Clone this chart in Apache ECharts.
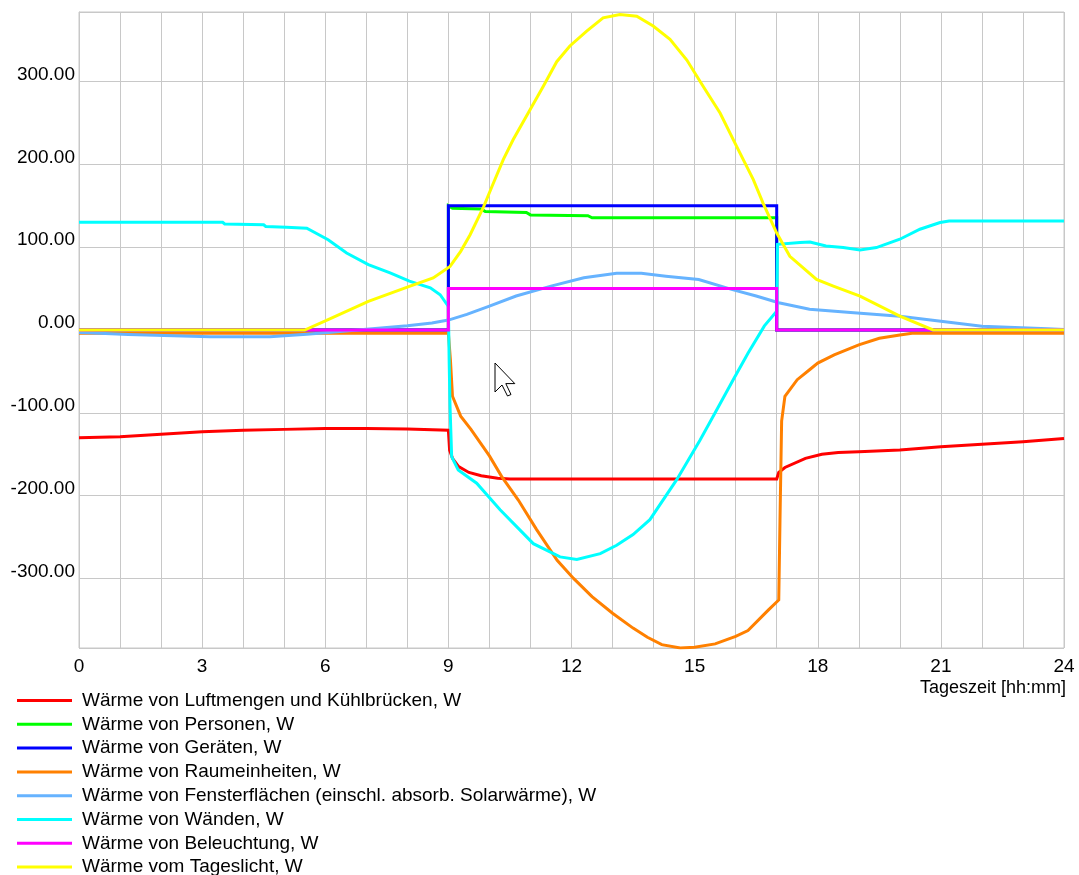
<!DOCTYPE html>
<html>
<head>
<meta charset="utf-8">
<script src="https://cdn.jsdelivr.net/npm/echarts@6/dist/echarts.min.js"></script>
<style>
html,body{margin:0;padding:0;background:#fff;}
#chart{width:1079px;height:875px;}
</style>
</head>
<body>
<div id="chart"></div>
<script>
// ---- data (hour of day, W) ----
const seriesNames = [
  'Wärme von Luftmengen und Kühlbrücken, W',
  'Wärme von Personen, W',
  'Wärme von Geräten, W',
  'Wärme von Raumeinheiten, W',
  'Wärme von Fensterflächen (einschl. absorb. Solarwärme), W',
  'Wärme von Wänden, W',
  'Wärme von Beleuchtung, W',
  'Wärme vom Tageslicht, W'
];
const xTickLabels = ['0','3','6','9','12','15','18','21','24'];

const luftmengen = [[0,-130],[1,-129],[2,-126],[3,-123],[4,-121],[5,-120],[6,-119],[7,-119],[8,-119.5],[9,-121],
  [9.03,-145],[9.1,-155],[9.25,-165],[9.5,-172],[9.8,-176],[10.2,-179],[10.5,-180],[17,-180],[17.05,-172],
  [17.2,-166],[17.7,-155],[18.1,-150],[18.5,-148],[19,-147],[20,-145],[21,-141],[22,-138],[23,-135],[24,-131]];
const personen = [[0,0],[9,0],[9,150],[9.1,147],[9.8,146],[9.9,143],[10.9,142],[11,139],[12.4,138],[12.5,135.5],[17,135.5],[17,0],[24,0]];
const geraete = [[0,0],[9,0],[9,150],[17,150],[17,0],[24,0]];
const raumeinheiten = [[0,-4],[9,-4],[9.05,-36],[9.1,-80],[9.3,-104],[9.55,-120],[10,-152],[10.3,-177],[10.7,-205],
  [11.15,-241],[11.65,-278],[12.05,-300],[12.5,-322],[13,-342],[13.5,-360],[13.85,-371],[14.2,-380],[14.65,-384],
  [15,-383],[15.5,-379],[16,-370],[16.3,-363],[16.8,-338],[17.05,-326],[17.08,-230],[17.12,-110],[17.2,-80],
  [17.5,-60],[17.8,-48],[18,-40],[18.4,-30],[19,-18],[19.5,-10],[20,-6],[20.3,-4],[24,-4]];
const fenster = [[0,-3],[0.5,-4],[1.2,-5.5],[2.3,-7],[3.2,-8],[4.65,-8],[5.55,-5],[6.07,-3],[7,1],[8,5],[8.6,8.5],
  [9,12],[9.45,18.8],[10,28.8],[10.65,41],[11.5,53],[12.3,63],[13.1,68.4],[13.7,68.4],[14.3,65],[15.1,61],
  [15.9,49],[16.5,41],[17.05,33],[17.8,25],[18.8,21],[20,16.7],[21,10.7],[22,4.6],[23.6,1.4],[24,0.5]];
const waende = [[0,130],[3.5,130],[3.55,128],[4.5,127],[4.55,125],[5.05,124],[5.55,123],[6.07,109],[6.52,93],
  [7.05,79],[7.58,69],[8.05,59],[8.56,51],[8.8,42.6],[9.0,28.5],[9.02,-40],[9.04,-92],[9.08,-153],[9.24,-169],
  [9.69,-185],[10.26,-217],[11.07,-258],[11.72,-274],[12.13,-277],[12.7,-270],[13.1,-260],[13.5,-247],
  [13.91,-229],[14.56,-181],[15.13,-133],[15.5,-100],[15.94,-60],[16.3,-28],[16.7,5],[17.0,22.8],[17.02,103.5],
  [17.57,105.6],[17.81,106.3],[18.2,101.5],[18.62,99.5],[19.03,96.6],[19.43,99.5],[20,109.6],[20.49,121.7],
  [20.98,129.8],[21.2,131.5],[24,131.5]];
const beleuchtung = [[0,0],[9,0],[9,50],[17,50],[17,0],[24,0]];
const tageslicht = [[0,0],[5.5,0],[6.07,12.4],[7.05,34.5],[8.05,52.7],[8.63,62.8],[9.04,76.8],[9.3,95],[9.53,115],
  [9.86,149],[10.06,173],[10.34,206],[10.58,230],[10.99,266],[11.31,294],[11.64,324],[11.96,343],[12.37,361],
  [12.77,377],[13.18,381],[13.59,379],[13.99,367],[14.4,351],[14.81,326],[15.21,294],[15.62,262],[16.02,222],
  [16.43,181.5],[16.67,153],[17.0,117],[17.32,89],[17.97,61],[18.38,53],[19.03,41],[20,16.7],[20.81,0],[24,0]];

const seriesData = [luftmengen, personen, geraete, raumeinheiten, fenster, waende, beleuchtung, tageslicht];
const seriesColors = ['#ff0000','#00ff00','#0000ff','#ff8000','#66b3ff','#00ffff','#ff00ff','#ffff00'];

const FONT = "'Liberation Sans', Arial, sans-serif";
const gridColor = '#c8c8c8';

const chart = echarts.init(document.getElementById('chart'), null, {renderer: 'canvas'});
chart.setOption({
  animation: false,
  backgroundColor: '#ffffff',
  grid: {left: 79, right: 15, top: 12, bottom: 227, show: true, borderColor: gridColor, borderWidth: 1, containLabel: false},
  xAxis: {
    type: 'value', min: 0, max: 24, interval: 1,
    axisLine: {show: true, lineStyle: {color: gridColor, width: 1}},
    axisTick: {show: false},
    splitLine: {show: true, lineStyle: {color: gridColor, width: 1}},
    axisLabel: {
      color: '#000', fontFamily: FONT, fontSize: 19, margin: 9,
      formatter: function (v) { const s = String(v); return xTickLabels.indexOf(s) >= 0 ? s : ''; }
    }
  },
  yAxis: {
    type: 'value', min: -384, max: 384, splitNumber: 8,
    axisLine: {show: true, lineStyle: {color: gridColor, width: 1}},
    axisTick: {show: false},
    splitLine: {show: true, lineStyle: {color: gridColor, width: 1}},
    axisLabel: {
      color: '#000', fontFamily: FONT, fontSize: 19, margin: 4,
      showMinLabel: false, showMaxLabel: false,
      verticalAlign: 'bottom', lineHeight: 14,
      formatter: function (v) { return (v % 100 === 0) ? v.toFixed(2) : ''; }
    }
  },
  legend: {
    orient: 'vertical', left: 12, top: 686, height: 300,
    icon: 'rect', itemWidth: 55, itemHeight: 3, itemGap: 4.8,
    selectedMode: false,
    textStyle: {color: '#000', fontFamily: FONT, fontSize: 19, lineHeight: 18, padding: [0, 0, 0, 5]},
    data: seriesNames
  },
  series: seriesData.map(function (d, i) {
    return {
      name: seriesNames[i], type: 'line', data: d, color: seriesColors[i],
      showSymbol: false, symbol: 'none', smooth: false,
      lineStyle: {width: 3, color: seriesColors[i], join: 'miter'},
      emphasis: {disabled: true}
    };
  }),
  graphic: [
    {type: 'text', right: 13, top: 679, style: {text: 'Tageszeit [hh:mm]', font: "18px 'Liberation Sans', Arial, sans-serif", fill: '#000'}},
    {type: 'polygon', shape: {points: [[495,363],[495,392],[502,385],[507.5,396],[511,394.5],[505.8,383.6],[514.8,383.6]]},
     style: {fill: '#ffffff', stroke: '#000000', lineWidth: 1}, z: 100}
  ]
});
</script>
</body>
</html>
